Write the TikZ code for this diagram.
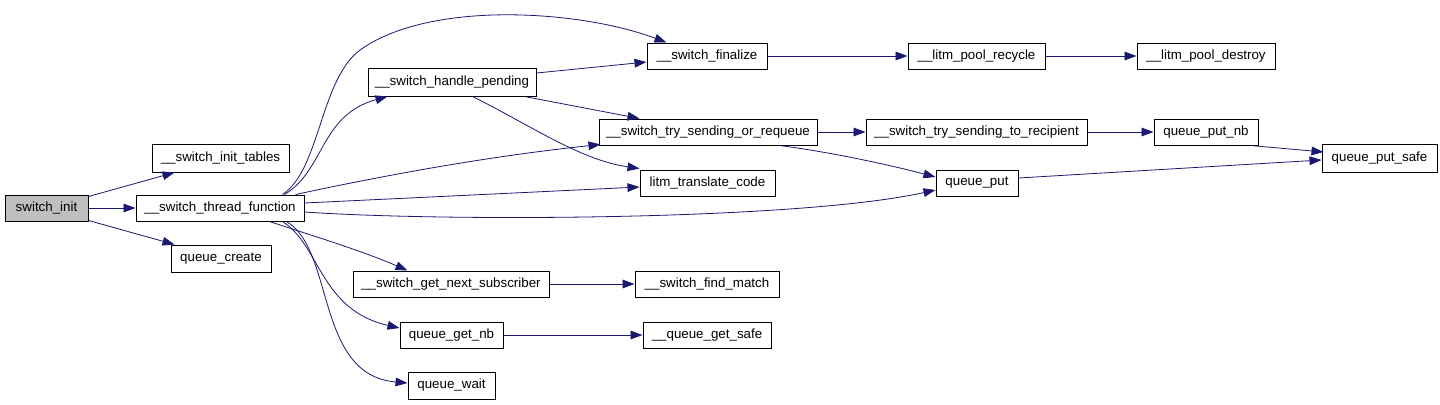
\documentclass[tikz,border=0pt]{standalone}
\usepackage{fontspec}
\setmainfont{Liberation Sans}
\usetikzlibrary{arrows.meta,calc}
\definecolor{edgec}{HTML}{191970}
\definecolor{grayfill}{HTML}{BFBFBF}
\begin{document}
\begin{tikzpicture}[x=0.75pt,y=-0.75pt,
  fn/.style={draw=black,fill=white,line width=0.75pt,inner sep=0pt,font=\fontsize{10pt}{12pt}\selectfont,minimum height=19.5pt},
  call/.style={draw=edgec,line width=0.6pt,-{Triangle[length=9pt,width=6.5pt]}}]
\useasboundingbox (0,0) rectangle (1440,404);
\fill[white] (0,0) rectangle (1440,404);
% nodes
\node[fn,fill=grayfill,minimum width=62.25pt] (si) at (46.5,208) {switch\_init};
\node[fn,minimum width=102.75pt,minimum height=21pt] (sit) at (220.5,158) {\_\_switch\_init\_tables};
\node[fn,minimum width=126pt] (stf) at (220,208) {\_\_switch\_thread\_function};
\node[fn,minimum width=75pt,minimum height=20.25pt] (qc) at (221,258.5) {queue\_create};
\node[fn,minimum width=126pt,minimum height=21pt] (shp) at (452,82) {\_\_switch\_handle\_pending};
\node[fn,minimum width=90pt] (sf) at (707,56) {\_\_switch\_finalize};
\node[fn,minimum width=163.5pt] (stsr) at (708,132) {\_\_switch\_try\_sending\_or\_requeue};
\node[fn,minimum width=101.25pt] (ltc) at (707.5,183) {litm\_translate\_code};
\node[fn,minimum width=147pt] (sgns) at (451,284) {\_\_switch\_get\_next\_subscriber};
\node[fn,minimum width=108pt] (sfm) at (707,284) {\_\_switch\_find\_match};
\node[fn,minimum width=77.25pt] (qgn) at (451.5,335) {queue\_get\_nb};
\node[fn,minimum width=96pt] (qgs) at (707,335) {\_\_queue\_get\_safe};
\node[fn,minimum width=65.25pt,minimum height=20.25pt] (qw) at (451.5,385.5) {queue\_wait};
\node[fn,minimum width=102.75pt] (lpr) at (976.5,56) {\_\_litm\_pool\_recycle};
\node[fn,minimum width=103.5pt] (lpd) at (1206,56) {\_\_litm\_pool\_destroy};
\node[fn,minimum width=165.75pt] (stst) at (976.5,132) {\_\_switch\_try\_sending\_to\_recipient};
\node[fn,minimum width=78pt] (qpn) at (1206,132) {queue\_put\_nb};
\node[fn,minimum width=86.25pt,minimum height=21pt] (qps) at (1379.5,158) {queue\_put\_safe};
\node[fn,minimum width=61.5pt] (qp) at (977,183) {queue\_put};
% edges
\draw[call] ($(si.north east)+(0,2)$) -- ($(sit.south west)+(23,0)$);
\draw[call] (si.east) -- (stf.west);
\draw[call] ($(si.south east)+(0,-1)$) -- ($(qc.north west)+(4,0)$);
\draw[call] ($(stf.north west)+(149,0)$) .. controls (325,170) and (320,115) .. ($(shp.south west)+(20,0)$);
\draw[call] ($(stf.north west)+(147,0)$) .. controls (320,170) and (320,80) .. (360,50) .. controls (430,0) and (580,10) .. ($(sf.north west)+(20,0)$);
\draw[call] ($(stf.north west)+(160,0)$) .. controls (400,172) and (500,155) .. ($(stsr.south west)+(2,-1)$);
\draw[call] ($(stf.east)+(0,-5)$) -- ($(ltc.west)+(0,4)$);
\draw[call] ($(stf.east)+(0,4)$) .. controls (450,222) and (800,220) .. ($(qp.west)+(0,7)$);
\draw[call] ($(stf.south west)+(134,0)$) .. controls (310,235) and (360,250) .. ($(sgns.north west)+(55,0)$);
\draw[call] ($(stf.south west)+(147,0)$) .. controls (320,245) and (320,310) .. ($(qgn.west)+(0,-7)$);
\draw[call] ($(stf.south west)+(151,0)$) .. controls (335,250) and (315,375) .. ($(qw.west)+(0,-2.5)$);
\draw[call] ($(shp.east)+(0,-9)$) -- ($(sf.west)+(0,6)$);
\draw[call] ($(shp.south east)+(-12,0)$) -- ($(stsr.north west)+(41,0)$);
\draw[call] ($(shp.south west)+(105,0)$) .. controls (530,125) and (580,160) .. ($(ltc.north west)+(0,-1)$);
\draw[call] (sf.east) -- (lpr.west);
\draw[call] (lpr.east) -- (lpd.west);
\draw[call] (stsr.east) -- (stst.west);
\draw[call] ($(stsr.south east)+(-38,0)$) .. controls (830,152) and (890,165) .. ($(qp.west)+(0,-6)$);
\draw[call] (stst.east) -- (qpn.west);
\draw[call] ($(qpn.south east)+(-8,0)$) -- ($(qps.west)+(2,-6)$);
\draw[call] ($(qp.east)+(0,-5)$) -- ($(qps.west)+(0,2)$);
\draw[call] (sgns.east) -- (sfm.west);
\draw[call] (qgn.east) -- (qgs.west);
\end{tikzpicture}
\end{document}
